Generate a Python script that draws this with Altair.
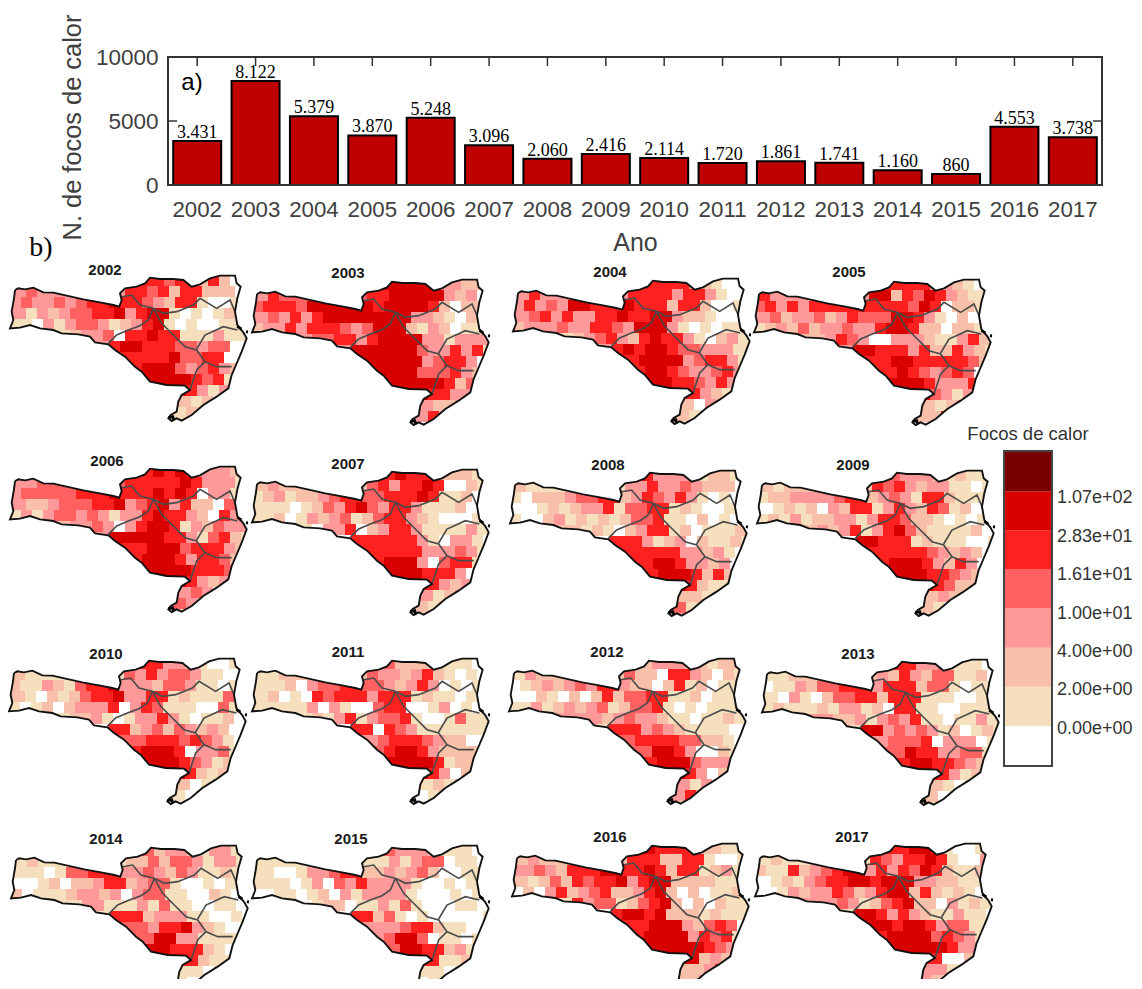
import altair as alt
import pandas as pd

YEARS = list(range(2002, 2018))
FOCOS = [3431, 8122, 5379, 3870, 5248, 3096, 2060, 2416, 2114, 1720, 1861, 1741, 1160, 860, 4553, 3738]
FOCOS_TXT = ["3.431", "8.122", "5.379", "3.870", "5.248", "3.096", "2.060", "2.416", "2.114", "1.720", "1.861", "1.741", "1.160", "860", "4.553", "3.738"]

CLASS_LABELS = ["0.00e+00", "2.00e+00", "4.00e+00", "1.00e+01", "1.61e+01", "2.83e+01", "1.07e+02"]
CLASS_COLORS = ["#ffffff", "#f5dfbd", "#f8c0a8", "#ff9999", "#ff6060", "#ff2020", "#d90000", "#780000"]

OUTLINE = [(45,105),(55,100),(75,103),(100,98),(130,112),(160,113),(200,122),(250,133),(300,142),(340,150),(358,155),
           (365,135),(360,115),(375,100),(410,95),(435,85),(450,68),(480,72),(520,72),(550,75),(575,95),(600,88),(630,70),
           (660,62),(705,62),(710,85),(722,95),(712,130),(705,170),(712,210),(730,232),(740,250),(725,290),(708,330),
           (695,360),(685,400),(650,425),(610,450),(575,480),(545,497),(530,490),(515,498),(505,490),(512,480),(530,470),
           (535,440),(545,420),(570,405),(555,392),(500,390),(450,380),(425,350),(405,335),(375,305),(345,285),(325,268),
           (285,262),(270,245),(235,238),(185,235),(160,225),(120,220),(90,210),(60,218),(30,220),(40,195),(35,170),(42,130)]
REGION_LINES = [
    [(325,265),(350,240),(385,225),(420,212),(445,195),(460,160)],
    [(365,125),(395,120),(420,150),(460,160)],
    [(460,160),(490,175),(530,170),(580,150),(600,130),(650,160),(690,135),(705,170)],
    [(460,160),(485,205),(520,240),(555,275),(590,285),(615,320)],
    [(590,282),(615,240),(670,215),(712,225)],
    [(615,320),(590,345),(570,405)],
    [(615,320),(650,335),(695,335)],
]
SPECKS = [[(712,214),(724,222)], [(738,230),(744,231)], [(505,488),(518,485),(522,496)]]

ROW_SPANS = [[(12,20)],[(0,2),(10,20)],[(0,20)],[(0,20)],[(0,20)],[(4,21)],[(7,21)],[(10,21)],[(11,20)],[(12,20)],[(13,19)],[(15,18)],[(15,17)],[(15,16)]]
CELL_W, CELL_H, X0, Y0, ROW_SHIFT, CELL_OVERLAP = 33, 33, 30, 60, 15, 1.5

MAPS = {
2002: "554552520/343 55452552220/3433434556 55432551001/3132344556 35661010121/1103134431 23561010011/123340556551113110/335665554434400/555564455001/5666434532/666654512/6665313/2120/122/11",
2003: "666663322/354 55666663230/4555466666 65666652022/3435356666 66663321021/2335355543 46662132011/344553566663313330/336666664335351/666663455301/6666444532/666665243/6665533/3223/352/02",
2004: "555532100/353 55553553100/3534366555 65552552001/3453533556 55663221001/2333433554 36663101011/123453256553102311/235656654433311/566663455311/5665433453/665543531/5555321/2032/211/11",
2005: "555533210/533 66254653211/4535355555 55554650221/3423342354 44665310202/1232423343 35665220221/223543003332113521/336655535225321/556655555421/5565434540/666533352/6664313/2123/225/05",
2006: "565653332/334 55555653331/3444445556 55565650331/3223444556 34563522043/1313443431 33565532053/233430356651324331/336666655314521/556664555321/5666535542/666655542/6665323/3430/432/12",
2007: "565552221/232 45355650021/1231223455 44555651120/1110124356 43553111203/1120132341 24553210001/103350235531111310/005555553103310/555553334310/5666304551/666555303/6655323/3123/212/12",
2008: "533331221/211 33533432220/1022234455 23543531010/0012123351 44551210010/1002312121 24451102010/221210235512011120/005553123021121/555553323101/5566533230/566652521/6665211/2211/412/30",
2009: "433321211/212 54532331101/1223333455 23431552111/0121203255 13532541201/1213122331 35542210101/232351356421111201/106655512111001/555554323200/5666532530/666554321/6665422/2321/210/10",
2010: "553321001/211 43534431100/2113214556 33324431101/2102124556 33551211141/1012023335 03541110041/122310133531011200/005523424323200/445554543100/5666503341/666543122/6665212/2011/101/01",
2011: "422221110/112 43323521010/1112034455 44323530101/1201054555 35551211010/1111130310 04550013010/121351344510014110/105505431111111/345554322001/4566532222/666651222/6665302/1212/012/11",
2012: "233322122/132 42205532021/0123234355 32202512011/0021020252 44551120111/1131232341 24451010111/333323433211011210/315553432111100/455554422101/4466530021/566643331/6665302/3130/353/11",
2013: "553341110/112 32532441120/0113244555 35552441011/1031024455 25551110011/1211121331 20551100111/332231343511011311/316634343120121/344450333011/4465533441/566554321/6555312/2101/201/10",
2014: "423321331/121 22424431331/1110144555 33432431121/0012022355 23441001011/2011123323 03441100210/113311131411001100/115552333110010/443556321001/4466331111/665552101/6555211/1101/100/11",
2015: "433321110/111 11313440110/1100133455 22323420011/1110130435 33331001011/0011012031 33331000101/012201131410001101/205524101000001/333455211001/3466401101/466552311/6555112/1101/011/10",
2016: "655552211/232 55522551001/3343255566 55652551231/2124254556 35662222111/0203523452 23562020112/153441245620202111/205665622212111/556663245401/5666635451/666665431/6666232/2235/223/01",
2017: "556651001/121 54355651003/2115234566 35354652112/0121345566 56663322110/0013233542 35662521210/333431245622031211/216653532113110/665665344111/5666645431/666665331/6655002/3310/321/11",
}

# map placement on the page: left, top of the state outline; centre of the year title
PLACE = {
2002:(10,275,105,270), 2003:(252,279,348,273), 2004:(513,278,610,272), 2005:(754,279,849,272),
2006:(10,466,107,461), 2007:(252,469,348,464), 2008:(510,470,608,465), 2009:(757,470,853,465),
2010:(9,658,106,654),  2011:(252,658,348,652), 2012:(509,658,607,652), 2013:(762,659,858,654),
2014:(11,845,106,839), 2015:(252,845,351,839), 2016:(512,843,610,837), 2017:(755,843,852,837),
}
OX, OY = 8, 262
MAP_W, MAP_H = 1122, 717


def clip(poly, xmin, xmax, ymin, ymax):
    def cut(pts, inside, cross):
        out = []
        for i, p in enumerate(pts):
            q = pts[i - 1]
            if inside(p):
                if not inside(q):
                    out.append(cross(q, p))
                out.append(p)
            elif inside(q):
                out.append(cross(q, p))
        return out
    def at_x(v):
        return lambda a, b: (v, a[1] + (b[1] - a[1]) * (v - a[0]) / (b[0] - a[0]))
    def at_y(v):
        return lambda a, b: (a[0] + (b[0] - a[0]) * (v - a[1]) / (b[1] - a[1]), v)
    pts = cut(poly, lambda p: p[0] >= xmin, at_x(xmin))
    if pts: pts = cut(pts, lambda p: p[0] <= xmax, at_x(xmax))
    if pts: pts = cut(pts, lambda p: p[1] >= ymin, at_y(ymin))
    if pts: pts = cut(pts, lambda p: p[1] <= ymax, at_y(ymax))
    return pts


def place(pts, year):
    left, top = PLACE[year][:2]
    return [[left + (x - X0) / 3 - OX, top + (y - Y0) / 3 - OY] for x, y in pts]


def row_cells(r, spans):
    """Cell columns of a row, with the x range each one covers (odd rows are set off like bricks)."""
    shift = ROW_SHIFT if r % 2 else 0
    out = []
    for s, (a, b) in enumerate(spans):
        for c in range(a, b + 1):
            xmin = X0 + CELL_W * c + shift
            xmax = xmin + CELL_W
            if s == 0 and c == a:
                xmin = -1000
            if c == b:
                xmax = X0 + CELL_W * spans[s + 1][0] + shift if s + 1 < len(spans) else 5000
            out.append((xmin, xmax))
    return out


cells, lines, outlines, specks = [], [], [], []
for year in YEARS:
    rows = MAPS[year].replace(" ", "").split("/")
    for r, (row, spans) in enumerate(zip(rows, ROW_SPANS)):
        ranges = row_cells(r, spans)
        assert len(ranges) == len(row), (year, r, len(row), len(ranges))
        for (xmin, xmax), k in zip(ranges, row):
            ymax = Y0 + CELL_H * (r + 1) if r < len(ROW_SPANS) - 1 else 5000
            pts = clip(OUTLINE, xmin, xmax + CELL_OVERLAP, Y0 + CELL_H * r, ymax + CELL_OVERLAP)
            if len(pts) >= 3:
                ring = place(pts, year)
                ring.append(ring[0])
                cells.append({"type": "Feature", "properties": {"k": k}, "geometry": {"type": "Polygon", "coordinates": [ring]}})
    lines.append({"type": "Feature", "properties": {}, "geometry": {"type": "MultiLineString", "coordinates": [place(l, year) for l in REGION_LINES]}})
    ring = place(OUTLINE, year)
    ring.append(ring[0])
    outlines.append({"type": "Feature", "properties": {}, "geometry": {"type": "LineString", "coordinates": ring}})
    specks.append({"type": "Feature", "properties": {}, "geometry": {"type": "MultiLineString", "coordinates": [place(l, year) for l in SPECKS]}})

PROJ = dict(type="identity", scale=1, translate=[0, 0])
color_scale = alt.Scale(domain=[str(i) for i in range(8)], range=CLASS_COLORS)

cell_layer = alt.Chart(alt.Data(values=cells)).mark_geoshape(strokeWidth=0, clip=True).encode(
    color=alt.Color("properties.k:N", scale=color_scale, legend=None),
).project(**PROJ)
line_layer = alt.Chart(alt.Data(values=lines)).mark_geoshape(filled=False, stroke="#4a4a4a", strokeWidth=1.6, clip=True).project(**PROJ)
outline_layer = alt.Chart(alt.Data(values=outlines)).mark_geoshape(filled=False, stroke="#111111", strokeWidth=1.9, clip=True).project(**PROJ)
speck_layer = alt.Chart(alt.Data(values=specks)).mark_geoshape(filled=False, stroke="#000000", strokeWidth=2.8, clip=True).project(**PROJ)

one = pd.DataFrame({"a": [0]})
titles = [
    alt.Chart(one).mark_text(font="Liberation Sans", fontWeight="bold", fontSize=15, color="#1a1a1a").encode(
        x=alt.value(PLACE[y][2] - OX), y=alt.value(PLACE[y][3] - OY), text=alt.value(str(y)))
    for y in YEARS
]

legend_df = pd.DataFrame({"k": [str(i) for i in range(8)]})
swatches = alt.Chart(legend_df).mark_rect().encode(
    x=alt.value(1004 - OX), x2=alt.value(1052 - OX),
    y=alt.Y("k:O", sort="descending", axis=None,
            scale=alt.Scale(range=[452 - OY, 765 - OY], paddingInner=0, paddingOuter=0)),
    color=alt.Color("k:N", scale=color_scale, legend=None),
)
legend_box = alt.Chart(one).mark_rect(fill=None, stroke="#444444", strokeWidth=2).encode(
    x=alt.value(1004 - OX), x2=alt.value(1052 - OX), y=alt.value(451 - OY), y2=alt.value(766 - OY))
labels_df = pd.DataFrame({"t": CLASS_LABELS[::-1]})
legend_text = alt.Chart(labels_df).mark_text(align="left", font="Liberation Sans", fontSize=18, color="#333333").encode(
    x=alt.value(1057 - OX),
    y=alt.Y("t:N", sort=None, axis=None, scale=alt.Scale(type="point", range=[479 - OY, 748 - OY])),
    text="t:N",
)
legend_title = alt.Chart(one).mark_text(font="Liberation Sans", fontSize=18.5, color="#333333").encode(
    x=alt.value(1028 - OX), y=alt.value(434 - OY), text=alt.value("Focos de calor"))

maps = alt.layer(cell_layer, line_layer, outline_layer, speck_layer, *titles,
                 swatches, legend_box, legend_text, legend_title).resolve_scale(
    y="independent", color="independent"
).properties(width=MAP_W, height=MAP_H)

# bar chart
BAR_W, BAR_H = 934, 128
BAR_LEFT, BAR_TOP = 168, 57
bars_df = pd.DataFrame({"ano": YEARS, "focos": FOCOS, "txt": FOCOS_TXT})
x_enc = alt.X("ano:O", title="Ano", scale=alt.Scale(paddingInner=0, paddingOuter=0),
              axis=alt.Axis(labelAngle=0, ticks=False, domain=False, labelFont="Liberation Sans", labelFontSize=22.3,
                            labelColor="#404040", labelPadding=13, titleFont="Liberation Sans", titleFontSize=25,
                            titleFontWeight="normal", titleColor="#404040", titlePadding=10))
y_enc = alt.Y("focos:Q", title="N. de focos de calor", scale=alt.Scale(domain=[0, 10000], nice=False),
              axis=alt.Axis(values=[0, 5000, 10000], format="d", ticks=False, domain=False, grid=False, labelFont="Liberation Sans",
                            labelFontSize=22.5, labelColor="#404040", labelPadding=10, titleFont="Liberation Sans",
                            titleFontSize=25.4, titleFontWeight="normal", titleColor="#404040", titleX=-83, titleY=70))
bar_base = alt.Chart(bars_df)
bars = bar_base.mark_bar(size=48, color="#bf0000", stroke="#000000", strokeWidth=2).encode(x=x_enc, y=y_enc)
bar_text = bar_base.mark_text(baseline="bottom", dy=1, font="Liberation Serif", fontSize=18, color="#000000").encode(
    x=alt.X("ano:O"), y=alt.Y("focos:Q"), text="txt:N")
top_ticks = bar_base.mark_rule(color="#333333", strokeWidth=1.5).encode(x=alt.X("ano:O"), y=alt.value(0), y2=alt.value(9))
tick_df = pd.DataFrame({"v": [5000]})
left_tick = alt.Chart(tick_df).mark_rule(color="#333333", strokeWidth=1.5).encode(
    y=alt.Y("v:Q"), x=alt.value(0), x2=alt.value(9))
right_tick = alt.Chart(tick_df).mark_rule(color="#333333", strokeWidth=1.5).encode(
    y=alt.Y("v:Q"), x=alt.value(BAR_W - 9), x2=alt.value(BAR_W))
frame = alt.Chart(one).mark_rect(fill=None, stroke="#333333", strokeWidth=2).encode(
    x=alt.value(0), x2=alt.value(BAR_W), y=alt.value(0), y2=alt.value(BAR_H))
a_label = alt.Chart(one).mark_text(font="Liberation Sans", fontSize=24, color="#000000").encode(
    x=alt.value(24), y=alt.value(26), text=alt.value("a)"))
b_label = alt.Chart(one).mark_text(font="Liberation Serif", fontSize=28, color="#000000").encode(
    x=alt.value(41 - BAR_LEFT), y=alt.value(248 - BAR_TOP), text=alt.value("b)"))
bar_chart = alt.layer(bars, bar_text, top_ticks, left_tick, right_tick, frame, a_label, b_label).properties(width=BAR_W, height=BAR_H)

spacer = alt.Chart(one).mark_text(text=" ").encode(x=alt.value(0), y=alt.value(0)).properties(width=21, height=10)

chart = alt.vconcat(alt.hconcat(spacer, bar_chart, spacing=0), maps, spacing=0).properties(
    padding={"left": 0, "right": 0, "top": 6, "bottom": 0}
).configure_view(stroke=None)

chart.save("out.html", embed_options={"renderer": "svg", "actions": False})
